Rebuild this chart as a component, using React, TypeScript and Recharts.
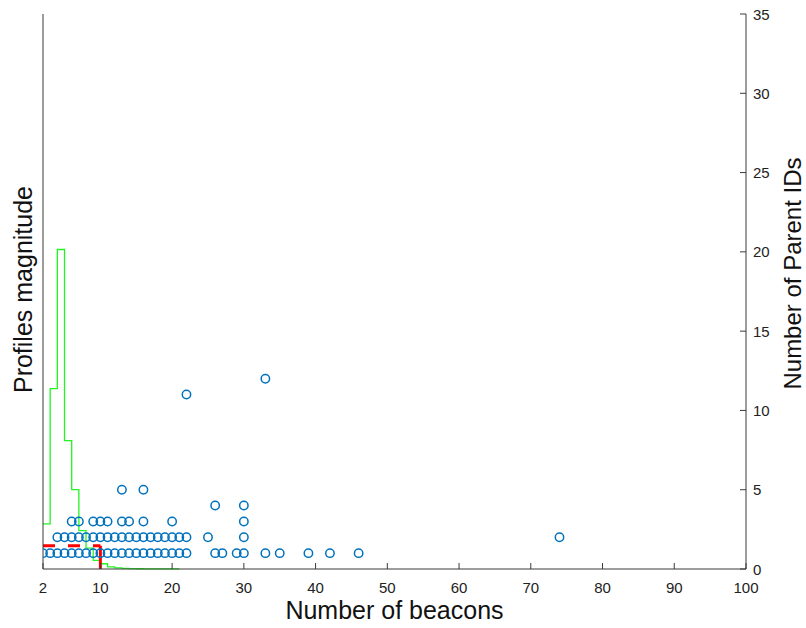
import {
  ComposedChart,
  Scatter,
  Line,
  XAxis,
  YAxis,
  Label,
} from "recharts";

// Tick labels
const xTicks = [2, 10, 20, 30, 40, 50, 60, 70, 80, 90, 100];
const rightTicks = [0, 5, 10, 15, 20, 25, 30, 35];

// Parent ID counts per number of beacons (blue circles)
const scatterPoints = [
  // one parent ID: 2..22 and a few larger counts
  ...[2, 3, 4, 5, 6, 7, 8, 9, 10, 11, 12, 13, 14, 15, 16, 17, 18, 19, 20, 21, 22].map((x) => ({ x, y: 1 })),
  ...[26, 27, 29, 30, 33, 35, 39, 42, 46].map((x) => ({ x, y: 1 })),
  // two parent IDs
  ...[4, 5, 6, 7, 8, 9, 10, 11, 12, 13, 14, 15, 16, 17, 18, 19, 20, 21, 22].map((x) => ({ x, y: 2 })),
  ...[25, 30, 74].map((x) => ({ x, y: 2 })),
  // three
  ...[6, 7, 9, 10, 11, 13, 14, 16, 20, 30].map((x) => ({ x, y: 3 })),
  // four, five and the outliers
  { x: 26, y: 4 },
  { x: 30, y: 4 },
  { x: 13, y: 5 },
  { x: 16, y: 5 },
  { x: 22, y: 11 },
  { x: 33, y: 12 },
];

// Profiles magnitude histogram (green steps), bins of width 1 from 2
const profileBins = [2, 3, 4, 5, 6, 7, 8, 9, 10, 11, 12, 13, 14, 15, 16, 17, 18, 19, 20, 21];
const profileValues = [2.84, 11.37, 20.15, 8.09, 5.0, 2.42, 1.32, 0.54, 0.33, 0.13, 0.07, 0.04, 0.025, 0.015, 0.01, 0.007, 0.005, 0.003, 0.002, 0.002];

// Red threshold profile
const thresholdX = [2, 10];
const thresholdLevel = 1.47;

const profileData = profileBins.map((x, i) => ({ x, y: profileValues[i] }));
const thresholdData = thresholdX.map((x) => ({ x, y: thresholdLevel }));
const thresholdDrop = [
  { x: thresholdX[1], y: thresholdLevel },
  { x: thresholdX[1], y: 0 },
];

const FONT = '"Liberation Sans", Arial, Helvetica, sans-serif';
const AXIS = "#3a3a3a";

const XTick = ({ x, y, payload }: any) => (
  <g>
    <line x1={x} x2={x} y1={y} y2={y - 6} stroke={AXIS} />
    <text x={x} y={y + 18} textAnchor="middle" dominantBaseline="central" fontSize={15} fontFamily={FONT} fill="#222">
      {payload.value}
    </text>
  </g>
);

const RightTick = ({ x, y, payload }: any) => (
  <g>
    <line x1={x} x2={x - 6} y1={y} y2={y} stroke={AXIS} />
    <text x={x + 7} y={y} textAnchor="start" dominantBaseline="central" fontSize={15} fontFamily={FONT} fill="#222">
      {payload.value}
    </text>
  </g>
);

const Circle = ({ cx, cy }: any) => (
  <circle cx={cx} cy={cy} r={4.2} fill="none" stroke="#0072BD" strokeWidth={1.5} />
);

export default function App() {
  return (
    <div style={{ position: "absolute", left: 0, top: 0, width: 806, height: 628 }}>
      <ComposedChart width={806} height={628} margin={{ top: 14, right: 59, left: 42, bottom: 58 }}>
        <XAxis
          type="number"
          dataKey="x"
          domain={[2, 100]}
          ticks={xTicks}
          height={1}
          tickSize={0}
          tickMargin={0}
          tick={<XTick />}
          axisLine={{ stroke: AXIS }}
          allowDataOverflow
        >
          <Label
            content={({ viewBox }: any) => (
              <text
                x={viewBox.x + viewBox.width / 2}
                y={viewBox.y + 41}
                textAnchor="middle"
                dominantBaseline="central"
                fontSize={25}
                fontFamily={FONT}
                fill="#111"
              >
                Number of beacons
              </text>
            )}
          />
        </XAxis>
        <YAxis
          yAxisId="left"
          orientation="left"
          type="number"
          domain={[0, 35]}
          width={1}
          tick={false}
          tickLine={false}
          axisLine={{ stroke: AXIS }}
        >
          <Label
            content={({ viewBox }: any) => {
              const cx = viewBox.x - 19;
              const cy = viewBox.y + viewBox.height / 2 - 2;
              return (
                <text
                  x={cx}
                  y={cy}
                  transform={`rotate(-90, ${cx}, ${cy})`}
                  textAnchor="middle"
                  dominantBaseline="central"
                  fontSize={25}
                  fontFamily={FONT}
                  fill="#111"
                >
                  Profiles magnitude
                </text>
              );
            }}
          />
        </YAxis>
        <YAxis
          yAxisId="right"
          orientation="right"
          type="number"
          domain={[0, 35]}
          ticks={rightTicks}
          width={1}
          tickSize={0}
          tickMargin={0}
          tick={<RightTick />}
          axisLine={{ stroke: AXIS }}
        >
          <Label
            content={({ viewBox }: any) => {
              const cx = viewBox.x + 46;
              const cy = viewBox.y + viewBox.height / 2 - 18;
              return (
                <text
                  x={cx}
                  y={cy}
                  transform={`rotate(-90, ${cx}, ${cy})`}
                  textAnchor="middle"
                  dominantBaseline="central"
                  fontSize={24}
                  fontFamily={FONT}
                  fill="#111"
                >
                  Number of Parent IDs
                </text>
              );
            }}
          />
        </YAxis>
        <Scatter
          yAxisId="right"
          data={scatterPoints}
          dataKey="y"
          shape={<Circle />}
          isAnimationActive={false}
        />
        <Line
          yAxisId="left"
          data={profileData}
          dataKey="y"
          type="stepAfter"
          stroke="#22f522"
          strokeWidth={1.3}
          dot={false}
          activeDot={false}
          isAnimationActive={false}
        />
        <Line
          yAxisId="left"
          data={thresholdData}
          dataKey="y"
          type="linear"
          stroke="#ff0000"
          strokeWidth={3}
          strokeDasharray="12 13"
          dot={false}
          activeDot={false}
          isAnimationActive={false}
        />
        <Line
          yAxisId="left"
          data={thresholdDrop}
          dataKey="y"
          type="linear"
          stroke="#ff0000"
          strokeWidth={3}
          dot={false}
          activeDot={false}
          isAnimationActive={false}
        />
      </ComposedChart>
    </div>
  );
}
